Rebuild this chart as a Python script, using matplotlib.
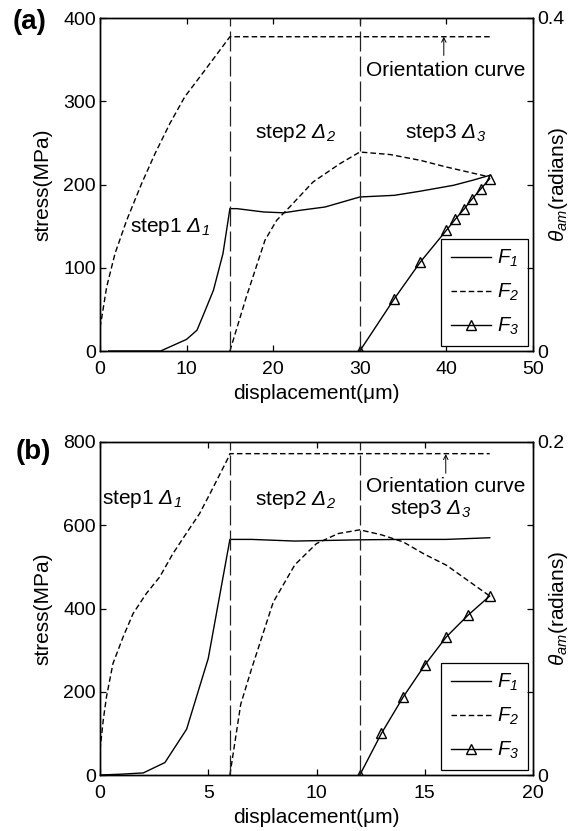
import matplotlib
matplotlib.use('Agg')
import matplotlib.pyplot as plt

plt.rcParams['font.family'] = ['Liberation Sans', 'DejaVu Sans']
plt.rcParams['mathtext.fontset'] = 'custom'
# all math pieces in this figure are italic (including digits and capital Greek)
plt.rcParams['mathtext.rm'] = 'Liberation Sans:italic'
plt.rcParams['mathtext.it'] = 'Liberation Sans:italic'
plt.rcParams['mathtext.bf'] = 'Liberation Sans:bold'

# ---------------- panel (a) data ----------------
a_f1_x = [1, 7, 10, 11.2, 12, 13.1, 14.2, 15, 15.8, 18.9, 21.2, 23.1, 26, 30, 34, 37, 40.8, 43, 45]
a_f1_y = [0, 0, 14, 25, 45, 73, 117, 171, 171, 167, 166, 169, 173, 185, 187, 192, 199, 205, 211]
a_f2_x = [15, 16.9, 19.05, 20.4, 21.9, 24.6, 27.7, 30, 33.5, 37, 40, 45]
a_f2_y = [0, 65, 133, 157, 173, 203, 225, 239, 236, 229, 221, 209]
a_f3_x = [30, 34, 37, 40, 41, 42, 43, 44, 45]
a_f3_y = [0, 63, 107, 145, 158, 170, 183, 195, 207]
a_orient_x = [0, 0.2, 0.77, 1.73, 3.08, 4.8, 6.35, 8.08, 9.8, 11.55, 13.28, 15, 45]
a_orient_y = [0.028, 0.040, 0.077, 0.117, 0.157, 0.201, 0.237, 0.2735, 0.3055, 0.3295, 0.3535, 0.3775, 0.3775]
a_steps = [15, 30]

# ---------------- panel (b) data ----------------
b_f1_x = [0, 1, 2, 3, 4, 5, 6, 7, 9, 12, 14, 16, 18]
b_f1_y = [0, 2, 5, 30, 110, 280, 566, 566, 562, 565, 566, 566, 570]
b_f2_x = [6, 6.5, 7, 8, 9, 10, 11, 12, 13, 14, 15, 16, 17, 18]
b_f2_y = [0, 170, 255, 415, 505, 556, 580, 589, 577, 560, 530, 504, 467, 430]
b_f3_x = [12, 13, 14, 15, 16, 17, 18]
b_f3_y = [0, 100, 187, 264, 332, 384, 430]
b_orient_x = [0, 0.15, 0.3, 0.6, 1.07, 1.53, 2.14, 2.76, 3.37, 3.98, 4.6, 5.2, 5.94, 6, 18]
b_orient_y = [0.015, 0.033, 0.047, 0.067, 0.083, 0.097, 0.109, 0.119, 0.133, 0.145, 0.157, 0.172, 0.191, 0.193, 0.193]
b_steps = [6, 12]

W, H = 578, 831
fig = plt.figure(figsize=(W / 100, H / 100), dpi=100)

LW = 1.0
SHORT = (0, (4, 2.2))
LONG = (0, (16, 4))


def make_panel(rect, xs, f1, f2, f3, orient, steps, xlim, ylim, yticks, rlim, rticks,
               rlabels, texts, arrow, tag, tagpos):
    ax = fig.add_axes(rect)
    ax2 = ax.twinx()
    ax.plot(f1[0], f1[1], '-', color='k', lw=LW, label=r'$F_{1}$')
    ax.plot(f2[0], f2[1], linestyle=SHORT, color='k', lw=LW, label=r'$F_{2}$')
    ax.plot(f3[0], f3[1], '-', color='k', lw=LW, marker='^', ms=7.5, mfc='none', mec='k',
            mew=1.0, label=r'$F_{3}$')
    ax2.plot(orient[0], orient[1], linestyle=SHORT, color='k', lw=LW)
    for s in steps:
        ax.plot([s, s], [ylim[0], ylim[1]], linestyle=LONG, color='#222222', lw=0.9)
    ax.set_xlim(*xlim)
    ax.set_ylim(*ylim)
    ax.set_xticks(xs)
    ax.set_yticks(yticks)
    ax2.set_ylim(*rlim)
    ax2.set_yticks(rticks)
    ax2.set_yticklabels(rlabels)
    for a in (ax, ax2):
        for sp in a.spines.values():
            sp.set_linewidth(1.0)
    ax.tick_params(axis='x', direction='in', top=True, length=4, width=0.9, labelsize=14, pad=7)
    ax.tick_params(axis='y', direction='in', left=True, right=False, length=4, width=0.9,
                   labelsize=14, pad=3)
    ax2.tick_params(axis='y', direction='in', right=True, length=4, width=0.9, labelsize=14, pad=3)
    ax2.get_yticklabels()[0].set_va('center_baseline')
    ax.set_xlabel('displacement(\u03bcm)', fontsize=15)
    ax.xaxis.set_label_coords(0.5, -0.098)
    ax.set_ylabel('stress(MPa)', fontsize=15)
    ax.yaxis.label.set_va('center')
    ax.yaxis.set_label_coords(-0.132, 0.5)
    ax2.set_ylabel(r'$\theta_{am}$(radians)', fontsize=15)
    ax2.yaxis.label.set_va('center')
    ax2.yaxis.set_label_coords(1.058, 0.5)
    for (tx, ty, s) in texts:
        ax.text(tx, ty, s, fontsize=15, ha='left', va='center')
    ax.annotate('', xy=(arrow[0], arrow[2]), xytext=(arrow[0], arrow[1]),
                arrowprops=dict(arrowstyle='->', lw=0.7, color='k', shrinkA=0, shrinkB=0,
                                mutation_scale=8))
    leg = ax.legend(loc='lower right', fontsize=14.5, frameon=True, fancybox=False,
                    edgecolor='k', framealpha=1, borderaxespad=0.25, handlelength=2.0,
                    handletextpad=0.3, borderpad=0.45, labelspacing=0.62)
    leg.get_frame().set_linewidth(0.9)
    fig.text(tagpos[0], tagpos[1], tag, fontsize=20, fontweight='bold', ha='left', va='center')
    return ax, ax2


ax_a = make_panel(
    [100 / W, 1 - 351 / H, 433 / W, 333 / H],
    [0, 10, 20, 30, 40, 50],
    (a_f1_x, a_f1_y), (a_f2_x, a_f2_y), (a_f3_x, a_f3_y), (a_orient_x, a_orient_y),
    a_steps, (0, 50), (0, 400), [0, 100, 200, 300, 400],
    (0, 0.4), [0, 0.1, 0.2, 0.3, 0.4], ['0', '', '', '', '0.4'],
    [(3.45, 149, r'step1 $\Delta_{1}$'),
     (17.9, 262, r'step2 $\Delta_{2}$'),
     (35.2, 262, r'step3 $\Delta_{3}$'),
     (30.7, 337, 'Orientation curve')],
    (39.7, 355, 377.5), '(a)', (13 / W, 1 - 22 / H))

ax_b = make_panel(
    [100 / W, 1 - 775 / H, 433 / W, 333 / H],
    [0, 5, 10, 15, 20],
    (b_f1_x, b_f1_y), (b_f2_x, b_f2_y), (b_f3_x, b_f3_y), (b_orient_x, b_orient_y),
    b_steps, (0, 20), (0, 800), [0, 200, 400, 600, 800],
    (0, 0.2), [0, 0.05, 0.1, 0.15, 0.2], ['0', '', '', '', '0.2'],
    [(0.1, 664, r'step1 $\Delta_{1}$'),
     (7.16, 660, r'step2 $\Delta_{2}$'),
     (13.4, 640, r'step3 $\Delta_{3}$'),
     (12.29, 693, 'Orientation curve')],
    (15.97, 725, 771), '(b)', (16 / W, 1 - 452 / H))

fig.savefig('out.png', dpi=100)
